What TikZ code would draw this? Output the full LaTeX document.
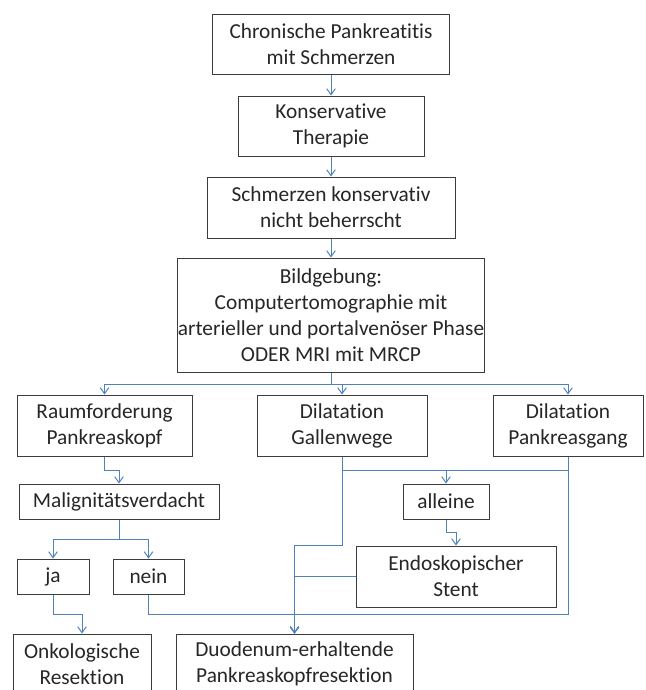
\documentclass[tikz,border=0pt]{standalone}
\usepackage{fontspec}
\setmainfont[Ligatures=CommonOff]{Carlito}
\usetikzlibrary{arrows.meta}

\definecolor{linkblue}{RGB}{79,129,189}
\definecolor{boxgray}{RGB}{60,60,60}
\definecolor{textgray}{RGB}{38,38,38}

\tikzset{every picture/.style={line width=0.75pt}}
\tikzset{
  box/.style={draw=boxgray, text=textgray, align=center, inner sep=0pt,
    font=\fontsize{16}{19.5}\selectfont},
  link/.style={draw=linkblue, line width=0.75pt},
  tolink/.style={link, -{Straight Barb[length=4.5pt,width=6.5pt]}}
}

\begin{document}
\begin{tikzpicture}[x=0.75pt,y=0.75pt,yscale=-1,xscale=1]
\useasboundingbox (0,0) rectangle (646,690);
\clip (0,0) rectangle (646,690);

%Boxes: main column
\node[box, minimum width=177.75pt, minimum height=45pt] (chron) at (331,44) {Chronische Pankreatitis\\mit Schmerzen};
\node[box, minimum width=139.5pt, minimum height=45pt] (konserv) at (331,126) {Konservative\\Therapie};
\node[box, minimum width=186pt, minimum height=45.75pt] (nichtbeh) at (331,207.5) {Schmerzen konservativ\\nicht beherrscht};
\node[box, minimum width=226.5pt, minimum height=85.5pt] (bild) at (331,315) {Bildgebung:\\Computertomographie mit\\arterieller und portalven\"oser Phase\\ODER MRI mit MRCP};

%Boxes: findings
\node[box, minimum width=131.25pt, minimum height=45.75pt] (raum) at (104.5,425.5) {Raumforderung\\Pankreaskopf};
\node[box, minimum width=127.5pt, minimum height=45.75pt] (gallen) at (342,425.5) {Dilatation\\Gallenwege};
\node[box, minimum width=112.5pt, minimum height=45.75pt] (pgang) at (568,425.5) {Dilatation\\Pankreasgang};

%Boxes: decisions
\node[box, minimum width=150pt, minimum height=26.25pt] (malig) at (119,501.5) {Malignit\"atsverdacht};
\node[box, minimum width=64.5pt, minimum height=26.25pt] (alleine) at (446,501.5) {alleine};
\node[box, minimum width=54pt, minimum height=26.25pt] (ja) at (53,576.5) {ja};
\node[box, minimum width=53.25pt, minimum height=26.25pt] (nein) at (148.5,576.5) {nein};
\node[box, minimum width=150pt, minimum height=45.75pt] (stent) at (456,576.5) {Endoskopischer\\Stent};

%Boxes: therapy
\node[box, minimum width=103.5pt, minimum height=45pt] (onko) at (82,664) {Onkologische\\Resektion};
\node[box, minimum width=177.75pt, minimum height=45pt] (duo) at (294.5,664) {Duodenum-erhaltende\\Pankreaskopfresektion};

%Connectors: main column
\draw[tolink] (chron) -- (konserv);
\draw[tolink] (konserv) -- (nichtbeh);
\draw[tolink] (nichtbeh) -- (bild);
\draw[tolink] (bild.south) -- ++(0,12) -| (raum.north);
\draw[tolink] (bild.south) -- ++(0,12) -| (gallen.north);
\draw[tolink] (bild.south) -- ++(0,12) -| (pgang.north);

%Connectors: left branch
\draw[tolink] (raum.south) -- ++(0,14) -| (malig.north);
\draw[tolink] (malig.south) -- ++(0,20) -| (ja.north);
\draw[tolink] (malig.south) -- ++(0,20) -| (nein.north);
\draw[tolink] (ja.south) -- ++(0,20) -| (onko.north);
\draw[tolink] (nein.south) -- ++(0,20) -| (duo.north);

%Connectors: right branch
\draw[link] (gallen.south) -- ++(0,14) -| (pgang.south);
\draw[tolink] (gallen.south) -- ++(0,14) -| (alleine.north);
\draw[tolink] (alleine.south) -- ++(0,13) -| (stent.north);
\draw[tolink] (gallen.south) -- ++(0,89) -| (duo.north);
\draw[tolink] (stent.west) -| (duo.north);
\draw[tolink] (pgang.south) -- ++(0,158) -| (duo.north);

\end{tikzpicture}
\end{document}
